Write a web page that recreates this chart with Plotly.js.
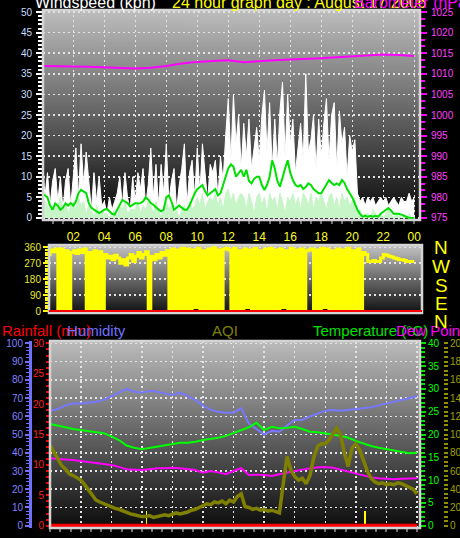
<!DOCTYPE html>
<html><head><meta charset="utf-8">
<script src="https://cdn.plot.ly/plotly-3.0.1.min.js"></script>
<style>html,body{margin:0;padding:0;background:#000;overflow:hidden}#chart{width:460px;height:538px}</style>
</head><body><div id="chart"></div>
<script>
// ---------- DATA ----------
const hourTicks = [2,4,6,8,10,12,14,16,18,20,22,24];
const hourLabels = ['02','04','06','08','10','12','14','16','18','20','22','00'];
const dirTicks = [0,90,180,270,360];

// wind, 10-minute samples from 00:00 to 24:00 (kph)
const windGust = [
 16,5,11,3,9,12, 4,10,2,9,12,3, 10,17,5,18,8,16, 9,2,11,4,10,3,
 4,1,5,2,4,6, 10,3,11,5,2,10, 4,11,7,12,3,8, 17,5,13,3,13,6,
 18,4,9,12,2,8, 12,18,3,11,14,5, 17,6,18,11,4,13, 11,14,5,15,9,20,
 29,14,30,18,25,12, 23,15,24,12,17,22, 14,25,31,16,28,12, 24,13,26,33,15,30,
 18,24,11,17,23,14, 35,16,19,25,12,24, 15,23,29,14,25,28, 12,26,18,22,10,20,
 16,19,6,4,5,3, 5,4,5,3,4,5, 4,5,3,4,5,4, 3,5,4,4,6,4, 5];
const windSpeed = [
 5,4,3,2,2,4, 3,5,2,4,1,3, 4,2,5,3,4,1, 3,2,0,3,1,2,
 1,1,0,1,2,0, 3,2,4,1,2,2, 2,4,1,3,2,4, 3,1,4,2,0,3,
 4,2,3,1,2,0, 2,3,1,4,2,3, 5,3,6,2,4,5, 4,6,3,5,2,6,
 7,4,6,3,5,6, 5,2,6,4,1,5, 6,3,5,1,6,4, 5,2,6,4,1,5,
 4,6,3,5,2,6, 5,3,6,2,5,4, 6,4,2,5,6,3, 5,2,6,4,5,3,
 4,5,1,2,0,1, 1,0,2,1,0,1, 0,1,2,1,0,1, 1,0,1,0,1,0, 0];
const windAvg = [
 6,5.5,5,3,2,3.5, 3,2,2.5,3.5,3,3.6, 3,4,6,6.8,6.5,6, 3.6,2.5,2,1.5,1.2,1.5,
 2,2.2,1.5,1,0.8,2, 3.5,4.4,4,3.6,2.8,3.2, 3.6,3.5,3.6,4,5,4.5, 3.6,3.2,2.5,2,1.6,2,
 5,5.5,4,2,2.5,3, 2.5,2,2,3,4.5,6, 7,7.5,8,6.5,5.5,6, 6.5,7,5.5,6,8,10,
 12,13,12.4,10,11,11.7, 10,11.7,9,8.4,9.5,10, 10,8,6.8,8,10,14, 12,9,7.6,10,12,14,
 11,9.2,8,7.6,8,7, 7.5,8.4,8,7,6.5,6, 6,7,8,9.2,8.5,8, 8.4,8,9.2,8.5,7,6,
 5,3.5,2,1,0.3,0.5, 0.3,0.5,0.3,0.5,0.3,1, 1.5,2,2.4,1.8,1,1, 1,0.8,0.5,0.3,0,0, 0];
// wind direction, 10-minute samples (degrees)
const windDir = [
 330,340,320,345,335,350, 10,350,5,340,15,330, 340,325,345,330,350,0, 330,5,340,0,335,10,
 320,300,310,290,315,300, 270,290,260,300,320,280, 310,330,300,320,335,0, 310,290,320,300,330,315,
 340,5,350,10,345,0, 355,15,350,5,345,20, 355,10,340,0,350,15, 360,5,345,10,350,355,
 345,5,355,0,340,10, 350,20,345,5,355,10, 340,15,350,0,355,10, 345,5,350,20,340,10,
 355,0,345,15,350,5, 340,345,350,10,345,0, 355,20,350,5,340,15, 350,0,345,10,355,5,
 340,10,350,5,330,320, 280,280,285,280,280,300, 320,315,310,305,300,295, 290,290,285,280,280,280, 280];
// pressure, hourly (hPa)
const pressure = [1011.9,1011.9,1011.8,1011.7,1011.6,1011.4,1011.3,1011.5,1011.9,1012.5,1012.9,1013.1,
 1013.3,1012.8,1013.1,1013.3,1013.5,1013.6,1013.8,1014.0,1014.2,1014.5,1014.7,1014.6,1014.3];

// half-hourly climate values
const humidity = [63,64,66,67,67,67.5,68,69,71,73,75,73.5,73,74,73.5,72.5,71.7,73,71,69,66,63.5,62.5,62,
 62,64.5,56,53,50,52,51.5,55,58,58,60,61.5,63,63.5,63,63.5,64,64.5,65,66,67,68,69,70,71];
const temperature = [22.3,22,21.6,21.2,21,20.8,20.5,20.3,19.6,18.8,17.6,17.1,16.8,17.1,17.4,17.7,17.9,18.2,18.2,18.4,18.8,19,19.3,19.7,
 20.3,21,21.6,22.6,21,21.7,21.4,21.5,21.7,21.2,20.6,20.5,20.3,20,19.7,19.3,18.6,18,17.5,17.1,16.8,16.6,16.2,15.9,16];
const dewPoint = [14.8,14.6,14.5,14.4,14.2,14,13.8,13.6,13.3,12.9,12.4,12.3,12.2,12.4,12.6,12.6,12.7,12.6,12.4,12.2,11.6,12,11.7,11.3,
 12,12.6,11.1,11.2,11.1,10.9,11.3,11.7,12,12.3,12.6,12.8,12.9,12.7,12.3,11.9,11.4,11,10.6,10.4,10.3,10.2,10.3,10.4,10.4];
// AQI, 15-minute samples
const aqi = [88,80,72,66, 62,57,55,52, 50,45,39,33, 28,26,24,22, 20,19,18,16, 14,13,12,11,
 10,10,11,9, 10,11,12,11, 13,14,13,14, 15,17,18,20, 22,24,23,26, 25,27,24,28,
 26,32,35,21, 20,18,19,17, 18,16,17,15, 14,46,76,61, 54,50,52,46, 55,75,87,90,
 90,94,100,107, 100,80,65,85, 90,83,72,60, 52,48,46,47, 45,46,45,47, 46,44,41,40, 35];
// rainfall, hourly (mm) and rain-rate events
const rainfall = [0,0,0,0,0,0,0,0,0,0,0,0,0,0,0,0,0,0,0,0,0,0,0,0,0];
const rainRateHours = [6.3, 20.6];
const rainRate = [2.5, 2.5];

// ---------- helpers ----------
const W = 460, H = 538;
const px = v => v / W, py = v => 1 - v / H;
const times = (arr, step) => arr.map((_, i) => i * step);
function grad(top, bottom){
  const c = document.createElement('canvas'); c.width = 4; c.height = 256;
  const ctx = c.getContext('2d'); const g = ctx.createLinearGradient(0,0,0,256);
  g.addColorStop(0, top); g.addColorStop(1, bottom);
  ctx.fillStyle = g; ctx.fillRect(0,0,4,256); return c.toDataURL();
}
function bgImg(x0,x1,y0,y1,top,bottom){
  return {source: grad(top,bottom), xref:'paper', yref:'paper', x:px(x0), y:py(y0),
    sizex:(x1-x0)/W, sizey:(y1-y0)/H, sizing:'stretch', xanchor:'left', yanchor:'top', layer:'below'};
}
function frame(x0,x1,y0,y1){
  return {type:'rect', xref:'paper', yref:'paper', x0:px(x0), x1:px(x1), y0:py(y1), y1:py(y0),
    line:{color:'#d4d4d4', width:2.5}, fillcolor:'rgba(0,0,0,0)', layer:'above'};
}
const GRID = {showgrid:true, gridcolor:'#e4e4e4', griddash:'2px,3px', gridwidth:1.5};
const TF = 'Liberation Sans, Arial, sans-serif';
function ann(text, x, y, color, size, anchor){
  return {text, xref:'paper', yref:'paper', x:px(x), y:py(y), xanchor:anchor||'left', yanchor:'middle',
    showarrow:false, font:{family:TF, size:size, color:color}};
}

const t10 = times(windGust, 1/6);
const t30 = times(humidity, 0.5);
const t15 = times(aqi, 0.25);
const t60 = times(pressure, 1);

const traces = [
  {x:t10, y:windGust, xaxis:'x', yaxis:'y', mode:'lines', line:{color:'#ffffff', width:1}, fill:'tozeroy', fillcolor:'#ffffff'},
  {x:t10, y:windSpeed, xaxis:'x', yaxis:'y', mode:'lines', line:{color:'#c8f5c8', width:1}, fill:'tozeroy', fillcolor:'#c8f5c8'},
  {x:t10, y:windAvg, xaxis:'x', yaxis:'y', mode:'lines', line:{color:'#00e000', width:2}},
  {x:t60, y:pressure, xaxis:'x', yaxis:'y2', mode:'lines', line:{color:'#ff00ff', width:2}},
  {x:t10, y:windDir, xaxis:'x2', yaxis:'y3', mode:'lines', line:{color:'#ffff00', width:3, shape:'hv'}},
  {x:t30, y:humidity, xaxis:'x3', yaxis:'y4', mode:'lines', line:{color:'#7878ff', width:2}},
  {x:t30, y:temperature, xaxis:'x3', yaxis:'y6', mode:'lines', line:{color:'#00ff00', width:2}},
  {x:t30, y:dewPoint, xaxis:'x3', yaxis:'y6', mode:'lines', line:{color:'#ff00ff', width:2}},
  {x:t15, y:aqi, xaxis:'x3', yaxis:'y7', mode:'lines', line:{color:'#808000', width:3.5}},
  {x:t60, y:rainfall, xaxis:'x3', yaxis:'y5', mode:'lines', line:{color:'#ff0000', width:4}},
  {x:rainRateHours, y:rainRate, xaxis:'x3', yaxis:'y5', type:'bar', width:0.12, marker:{color:'#ffff00', line:{width:0}}}
];

const layout = {
  width:W, height:H, margin:{l:0,r:0,t:0,b:0}, paper_bgcolor:'#000', plot_bgcolor:'rgba(0,0,0,0)',
  showlegend:false, font:{family:TF, size:10, color:'#fff'}, bargap:0,
  xaxis: Object.assign({domain:[px(43),px(420)], anchor:'y', range:[0.045,24.37], tickmode:'array',
    tickvals:hourTicks, ticktext:hourLabels, tickfont:{color:'#ffff20', size:12, family:TF},
    ticks:'outside', ticklen:3, tickwidth:2, tickcolor:'#707070', ticklabelstandoff:3, zeroline:false,
    minor:{tickmode:'linear', tick0:0, dtick:2/3, ticks:'outside', ticklen:3, tickwidth:2, tickcolor:'#707070', showgrid:false}}, GRID),
  yaxis: Object.assign({domain:[py(220),py(10)], anchor:'x', range:[-0.5,50.5], tickmode:'linear', tick0:0, dtick:5,
    tickfont:{color:'#c8dcff', size:10}, ticks:'outside', ticklen:6, tickwidth:2, tickcolor:'#ffffff', zeroline:false,
    ticklabelstandoff:2,
    minor:{tickmode:'linear', tick0:0, dtick:1, ticks:'outside', ticklen:4, tickwidth:2, tickcolor:'#ffffff', showgrid:false}}, GRID),
  yaxis2: {overlaying:'y', side:'right', anchor:'x', range:[974.5,1025.5], tickmode:'linear', tick0:975, dtick:5,
    tickfont:{color:'#ff40ff', size:10}, ticks:'outside', ticklen:6, tickwidth:2, tickcolor:'#ff00ff',
    showgrid:false, zeroline:false, ticklabelstandoff:2,
    minor:{tickmode:'linear', tick0:975, dtick:5/3, ticks:'outside', ticklen:4, tickwidth:2, tickcolor:'#ff00ff', showgrid:false}},
  xaxis2: {domain:[px(49),px(422)], anchor:'y3', range:[0.43,24.5], showticklabels:false, ticks:'', showgrid:false, zeroline:false},
  yaxis3: Object.assign({domain:[py(313),py(245)], anchor:'x2', range:[-11,373], tickmode:'array', tickvals:dirTicks,
    tickfont:{color:'#e8e830', size:10}, ticks:'outside', ticklen:5, tickwidth:2, tickcolor:'#ffff00', zeroline:false,
    minor:{tickmode:'linear', tick0:0, dtick:15, ticks:'outside', ticklen:3, tickwidth:2, tickcolor:'#ffff00', showgrid:false}}, GRID),
  xaxis3: Object.assign({domain:[px(50),px(420)], anchor:'y4', range:[-0.013,24.2], tickmode:'linear', tick0:0, dtick:2,
    showticklabels:false, ticks:'outside', ticklen:3, tickwidth:2, tickcolor:'#707070', zeroline:false,
    minor:{tickmode:'linear', tick0:0, dtick:2/3, ticks:'outside', ticklen:3, tickwidth:2, tickcolor:'#707070', showgrid:false}}, GRID),
  yaxis4: Object.assign({domain:[py(528),py(341)], anchor:'free', position:px(30), side:'left', range:[-1.26,101.3],
    tickmode:'linear', tick0:0, dtick:10, tickfont:{color:'#8080ff', size:10}, ticks:'outside', ticklen:4, tickwidth:2,
    tickcolor:'#7070ff', showline:true, linecolor:'#7070ff', linewidth:3, zeroline:false,
    minor:{tickmode:'linear', tick0:0, dtick:2, ticks:'outside', ticklen:3, tickwidth:1, tickcolor:'#7070ff', showgrid:false}}, GRID),
  yaxis5: {overlaying:'y4', anchor:'free', position:px(50), side:'left', range:[-0.378,30.39], tickmode:'linear', tick0:0, dtick:5,
    tickfont:{color:'#ff2020', size:10}, ticks:'outside', ticklen:4, tickwidth:2, tickcolor:'#ff0000', showgrid:false, zeroline:false,
    minor:{tickmode:'linear', tick0:0, dtick:1, ticks:'outside', ticklen:4, tickwidth:2, tickcolor:'#ff0000', showgrid:false}},
  yaxis6: {overlaying:'y4', anchor:'free', position:px(420), side:'right', range:[-0.505,40.52], tickmode:'linear', tick0:0, dtick:5,
    tickfont:{color:'#00ff00', size:10}, ticks:'outside', ticklen:5, tickwidth:2, tickcolor:'#00e000', showgrid:false, zeroline:false,
    minor:{tickmode:'linear', tick0:0, dtick:1, ticks:'outside', ticklen:4, tickwidth:2, tickcolor:'#00e000', showgrid:false}},
  yaxis7: {overlaying:'y4', anchor:'free', position:px(443), side:'right', range:[-2.52,202.6], tickmode:'linear', tick0:0, dtick:20,
    tickfont:{color:'#a0a000', size:10}, ticks:'outside', ticklen:4, tickwidth:2, tickcolor:'#909000', showgrid:false, zeroline:false,
    minor:{tickmode:'linear', tick0:0, dtick:5, ticks:'outside', ticklen:4, tickwidth:2, tickcolor:'#909000', showgrid:false}},
  images: [
    bgImg(43,420,10,220,'#bebebe','#080808'),
    bgImg(49,422,245,313,'#c4c4c4','#101010'),
    bgImg(50,420,341,528,'#bcbcbc','#0c0c0c')
  ],
  shapes: [
    frame(43,420,10,220), frame(49,422,245,313), frame(50,420,341,528),
    {type:'line', xref:'paper', yref:'y3', x0:px(49), x1:px(422), y0:0, y1:0, line:{color:'#ff0000', width:2}, layer:'above'}
  ],
  annotations: [
    ann('Windspeed (kph)', 33, 3, '#ffffff', 16),
    ann('24 hour graph day : August 17 2006', 170, 3, '#ffff00', 16),
    ann('Barometer (hPa)', 352, 3, '#ff00ff', 16),
    ann('Rainfall (mm)', 0, 330, '#ff0000', 15),
    ann('Humidity', 65, 330, '#7070ff', 15),
    ann('AQI', 210, 330, '#808000', 15),
    ann('Temperature (°C)', 311, 330, '#00e000', 15),
    ann('Dew Point', 394, 330, '#ff00ff', 15),
    ann('N', 441, 248, '#ffff00', 19, 'center'),
    ann('W', 441, 266.5, '#ffff00', 19, 'center'),
    ann('S', 441, 285, '#ffff00', 19, 'center'),
    ann('E', 441, 303.5, '#ffff00', 19, 'center'),
    ann('N', 441, 321, '#ffff00', 19, 'center')
  ]
};

Plotly.newPlot('chart', traces, layout, {staticPlot:true, displayModeBar:false});
</script>
</body></html>
